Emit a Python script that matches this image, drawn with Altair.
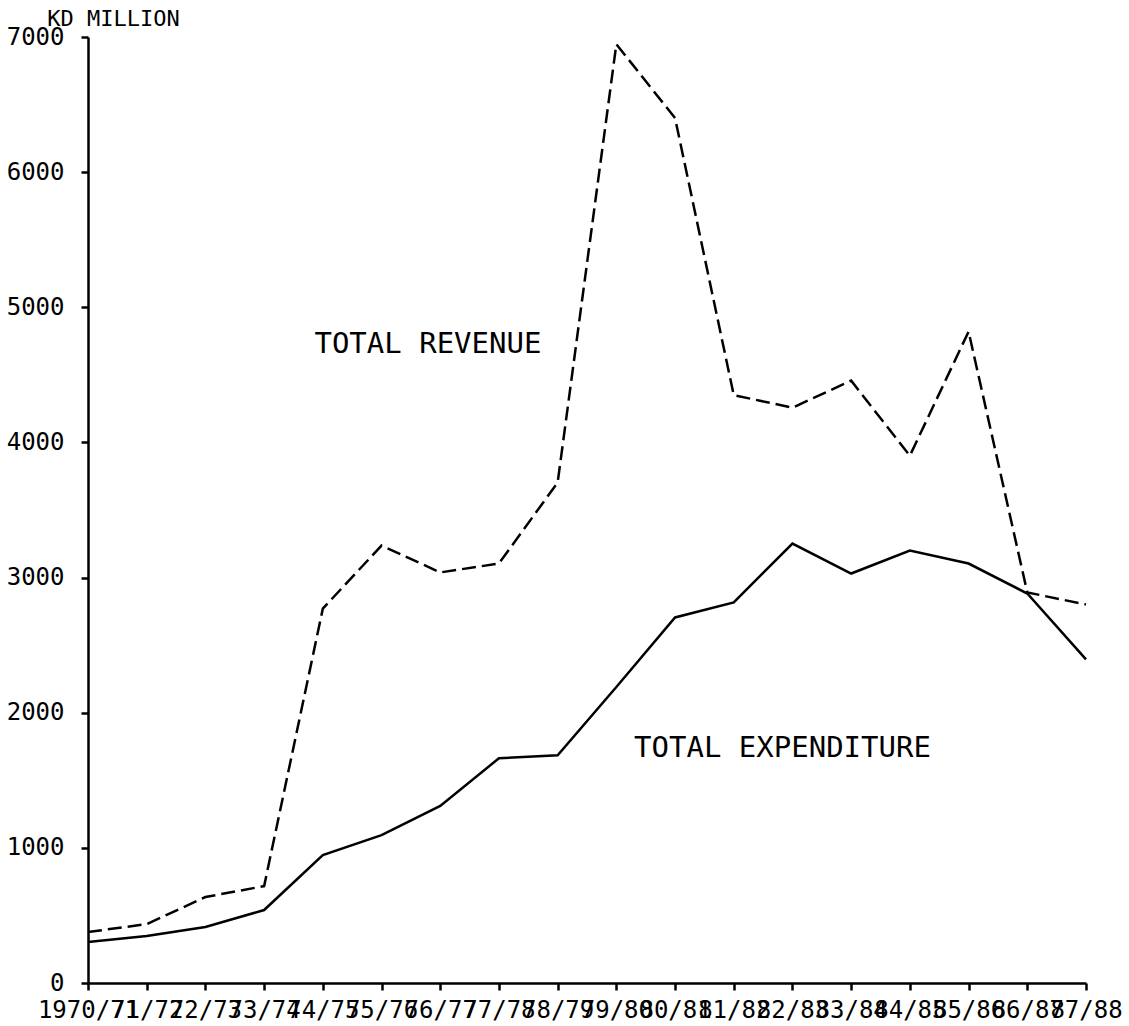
import json

import altair as alt
import pandas as pd

# Fiscal years (first one written in full, the rest abbreviated)
years = [
    "1970/71", "71/72", "72/73", "73/74", "74/75", "75/76", "76/77", "77/78",
    "78/79", "79/80", "80/81", "81/82", "82/83", "83/84", "84/85", "85/86",
    "86/87", "87/88",
]

# KD million
revenue = [377, 436, 636, 717, 2770, 3237, 3038, 3104, 3703, 6947, 6400,
           4350, 4257, 4457, 3902, 4820, 2890, 2801]
expenditure = [303, 347, 414, 540, 946, 1094, 1310, 1663, 1685, 2190, 2705,
               2816, 3252, 3030, 3200, 3104, 2882, 2395]

y_ticks = [0, 1000, 2000, 3000, 4000, 5000, 6000, 7000]

# In-plot series labels: text, position on the year index, value
label_text = ["TOTAL REVENUE", "TOTAL EXPENDITURE"]
label_pos = [5.79, 11.83]
label_val = [4730, 1740]

idx = list(range(len(years)))
rev_df = pd.DataFrame({"i": idx, "value": revenue})
exp_df = pd.DataFrame({"i": idx, "value": expenditure})
lab_df = pd.DataFrame({"i": label_pos, "value": label_val, "text": label_text})

MONO = "DejaVu Sans Mono"
label_expr = json.dumps(years) + "[datum.value]"

x_enc = alt.X(
    "i:Q",
    scale=alt.Scale(domain=[0, len(years) - 1], nice=False, zero=False),
    axis=alt.Axis(
        values=idx,
        labelExpr=label_expr,
        title=None,
        tickSize=7,
        labelPadding=8,
        labelOverlap=False,
        labelFlush=False,
        labelBound=False,
    ),
)
y_enc = alt.Y(
    "value:Q",
    scale=alt.Scale(domain=[0, 7000], nice=False),
    axis=alt.Axis(
        values=y_ticks,
        format="d",
        title="KD MILLION",
        titleAngle=0,
        titleX=25,
        titleY=-19,
        titleAlign="center",
        titleBaseline="middle",
        titleFont=MONO,
        titleFontSize=22,
        titleFontWeight="normal",
        titleColor="black",
        tickSize=7,
        labelPadding=17,
        labelFlush=False,
        labelBound=False,
    ),
)

rev_line = alt.Chart(rev_df).mark_line(
    color="black", strokeWidth=2.5, strokeDash=[14, 6], strokeCap="butt"
).encode(x=x_enc, y=y_enc)

exp_line = alt.Chart(exp_df).mark_line(
    color="black", strokeWidth=2.5
).encode(x=x_enc, y=y_enc)

labels = alt.Chart(lab_df).mark_text(
    font=MONO, fontSize=29, color="black", align="center", baseline="middle"
).encode(x=x_enc, y=y_enc, text="text:N")

chart = (
    alt.layer(rev_line, exp_line, labels)
    .properties(
        width=998,
        height=946,
        autosize=alt.AutoSizeParams(type="none"),
        padding={"left": 88, "top": 37, "right": 43, "bottom": 43},
        background="white",
    )
    .configure_view(stroke=None)
    .configure_axis(
        grid=False,
        domainColor="black",
        domainWidth=2.5,
        tickColor="black",
        tickWidth=2.5,
        labelFont=MONO,
        labelFontSize=24,
        labelColor="black",
    )
)

chart.save("out.html", embed_options={"renderer": "svg", "actions": False})
